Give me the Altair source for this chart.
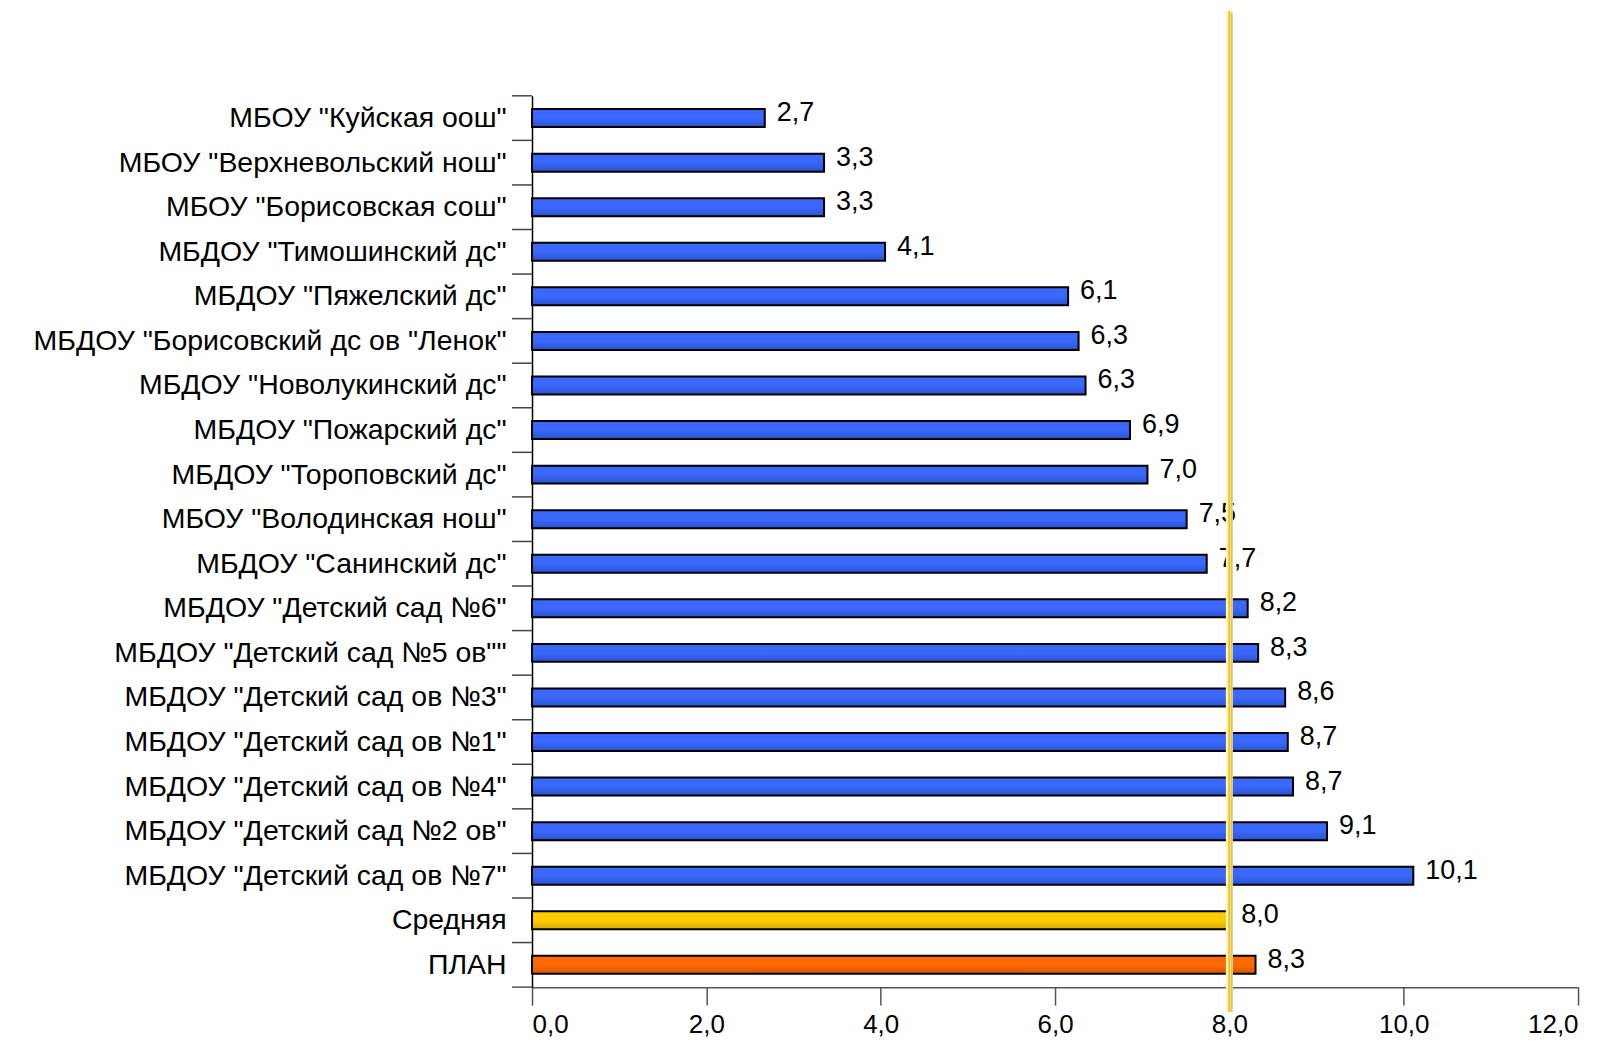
import altair as alt
import pandas as pd

names = [
    'МБОУ "Куйская оош"',
    'МБОУ "Верхневольский нош"',
    'МБОУ "Борисовская сош"',
    'МБДОУ "Тимошинский дс"',
    'МБДОУ "Пяжелский дс"',
    'МБДОУ "Борисовский дс ов "Ленок"',
    'МБДОУ "Новолукинский дс"',
    'МБДОУ "Пожарский дс"',
    'МБДОУ "Тороповский дс"',
    'МБОУ "Володинская нош"',
    'МБДОУ "Санинский дс"',
    'МБДОУ "Детский сад №6"',
    'МБДОУ "Детский сад №5 ов""',
    'МБДОУ "Детский сад ов №3"',
    'МБДОУ "Детский сад ов №1"',
    'МБДОУ "Детский сад ов №4"',
    'МБДОУ "Детский сад №2 ов"',
    'МБДОУ "Детский сад ов №7"',
    'Средняя',
    'ПЛАН',
]
values = [2.67, 3.35, 3.35, 4.05, 6.15, 6.27, 6.35, 6.86, 7.06, 7.51, 7.74,
          8.21, 8.33, 8.64, 8.67, 8.73, 9.12, 10.11, 8.0, 8.3]
labels = ["2,7", "3,3", "3,3", "4,1", "6,1", "6,3", "6,3", "6,9", "7,0", "7,5",
          "7,7", "8,2", "8,3", "8,6", "8,7", "8,7", "9,1", "10,1", "8,0", "8,3"]
groups = ["inst"] * 18 + ["avg", "plan"]
avg_line = [8.0]
x_ticks = [0, 2, 4, 6, 8, 10, 12]

FONT = "Liberation Sans"
W, H = 1048, 893

df = pd.DataFrame({"name": names, "value": values, "label": labels, "group": groups})

yscale = alt.Scale(domain=names, paddingInner=0, paddingOuter=0)
y_enc = alt.Y("name:N", scale=yscale,
              axis=alt.Axis(title=None, ticks=False, domain=True, domainColor="black",
                            domainWidth=1.5, labelFont=FONT, labelFontSize=28.5,
                            labelColor="black", labelPadding=26, labelLimit=700))
x_enc = alt.X("value:Q", scale=alt.Scale(domain=[0, 12], nice=False),
              axis=alt.Axis(title=None, values=x_ticks, grid=False,
                            labelExpr="replace(format(datum.value, '.1f'), '.', ',')",
                            tickSize=18, tickColor="#555", tickWidth=1.5,
                            domainColor="#555", domainWidth=1.5,
                            labelFont=FONT, labelFontSize=26, labelColor="black",
                            labelPadding=6))


def grad(c1, c2):
    return alt.LinearGradient(
        gradient="linear", x1=0, x2=0, y1=0, y2=1,
        stops=[alt.GradientStop(offset=0, color=c1),
               alt.GradientStop(offset=0.5, color=c1),
               alt.GradientStop(offset=1, color=c2)])


base = alt.Chart(df)


def bars(group, c1, c2):
    return base.transform_filter(f"datum.group == '{group}'").mark_bar(
        size=18, fill=grad(c1, c2), stroke="black", strokeWidth=2
    ).encode(x=x_enc, y=y_enc)


blue = bars("inst", "#3a68fa", "#2a52d0")
yellow = bars("avg", "#ffcc00", "#d9a800")
orange = bars("plan", "#ff6a00", "#d85500")

text = base.mark_text(align="left", baseline="middle", dx=12, dy=-5,
                      font=FONT, fontSize=27, color="black").encode(
    x=x_enc, y=y_enc, text="label:N")

ticks = base.mark_rule(color="#444", strokeWidth=1.5).encode(
    y=alt.Y("name:N", scale=yscale, bandPosition=0),
    x=alt.value(-20), x2=alt.value(0))

bottom_tick = alt.Chart(pd.DataFrame({"a": [0]})).mark_rule(
    color="#555", strokeWidth=1.5).encode(
    y=alt.value(H), x=alt.value(-20), x2=alt.value(0))

avg_df = pd.DataFrame({"value": avg_line})
halo = alt.Chart(avg_df).mark_rule(color="#fff3c8", strokeWidth=7).encode(
    x=alt.X("value:Q"), y=alt.value(-85), y2=alt.value(918))
thin = alt.Chart(avg_df).mark_rule(color="#bfae78", strokeWidth=1.2, xOffset=2.5).encode(
    x=alt.X("value:Q"), y=alt.value(-83), y2=alt.value(918))
gold = alt.Chart(avg_df).mark_rule(color="#f5c400", strokeWidth=2.2).encode(
    x=alt.X("value:Q"), y=alt.value(-85), y2=alt.value(918))

chart = alt.layer(blue, yellow, orange, ticks, bottom_tick, text, halo, thin, gold).properties(
    width=W, height=H,
    padding={"left": 525, "top": 87, "right": 27, "bottom": 52},
    autosize="none",
).configure_view(stroke=None)

chart.save("out.html", embed_options={"renderer": "svg", "actions": False})
